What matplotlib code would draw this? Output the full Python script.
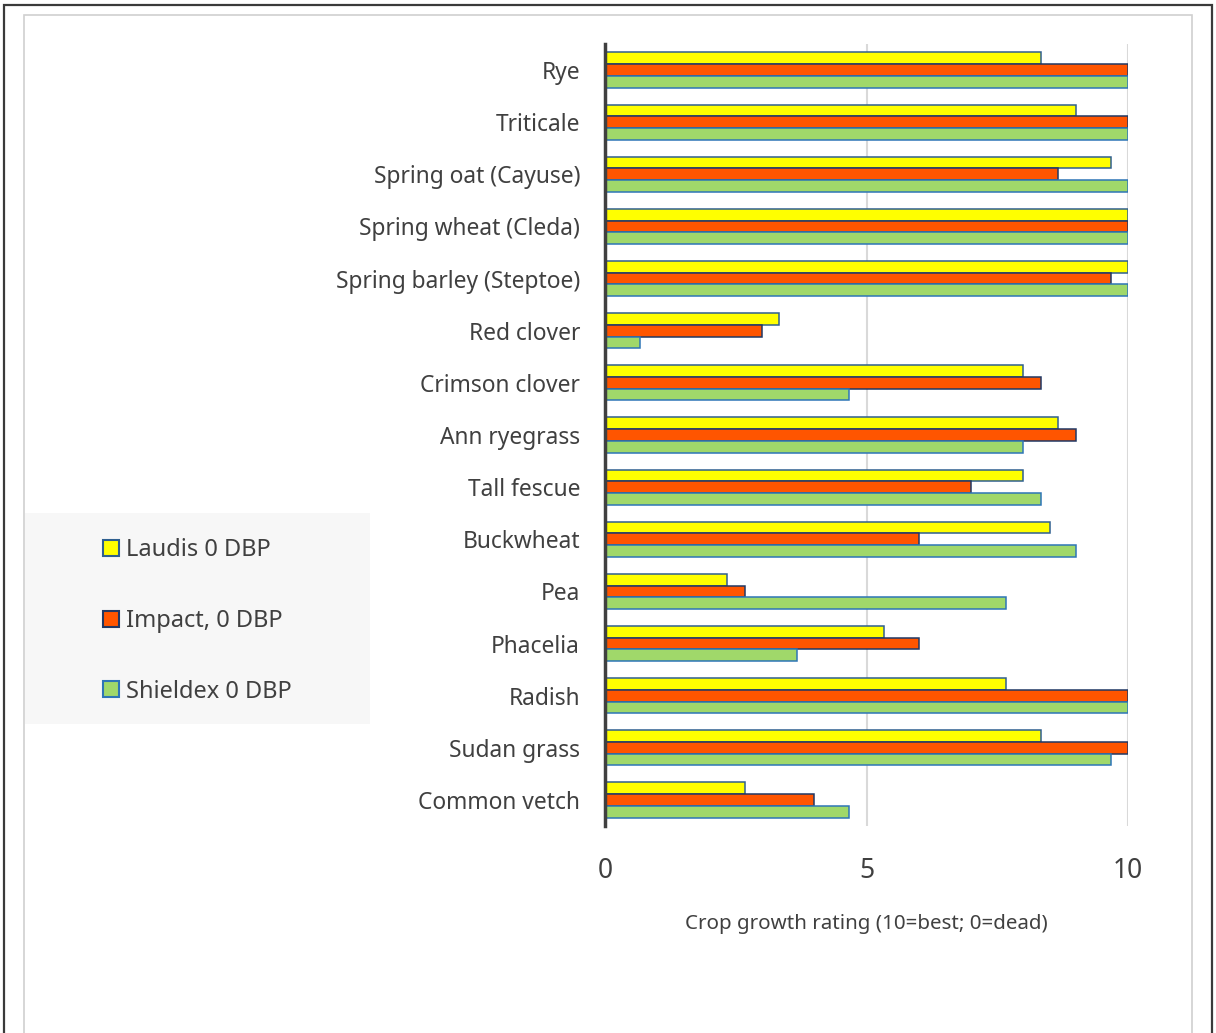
import matplotlib
matplotlib.use("Agg")
import matplotlib.pyplot as plt
from matplotlib.patches import Rectangle, Patch
import numpy as np

plt.rcParams['font.family'] = ['Noto Sans', 'DejaVu Sans']

# data (rating 0-10)
crops = ["Rye", "Triticale", "Spring oat (Cayuse)", "Spring wheat (Cleda)",
         "Spring barley (Steptoe)", "Red clover", "Crimson clover", "Ann ryegrass",
         "Tall fescue", "Buckwheat", "Pea", "Phacelia", "Radish", "Sudan grass",
         "Common vetch"]
laudis = [8.33, 9.0, 9.67, 10, 10, 3.33, 8.0, 8.67, 8.0, 8.5, 2.33, 5.33, 7.67, 8.33, 2.67]
impact = [10, 10, 8.67, 10, 9.67, 3.0, 8.33, 9.0, 7.0, 6.0, 2.67, 6.0, 10, 10, 4.0]
shieldex = [10, 10, 10, 10, 10, 0.67, 4.67, 8.0, 8.33, 9.0, 7.67, 3.67, 10, 9.67, 4.67]
series_names = ["Laudis 0 DBP", "Impact, 0 DBP", "Shieldex 0 DBP"]

fills = ["#FFFF00", "#FF5500", "#A0D86A"]
edges = ["#2F5F8F", "#203864", "#2E75B6"]
txt = "#404040"

fig = plt.figure(figsize=(12.16, 10.33), dpi=100)

# outer frame + inner light frame (bottom runs off the image)
fig.patches.append(Rectangle((4 / 1216, -0.05), 1208 / 1216, 1.05 - 5 / 1033,
                             transform=fig.transFigure, fill=False,
                             edgecolor="#3A3A3A", linewidth=1.6, zorder=0))
fig.patches.append(Rectangle((24 / 1216, -0.05), 1168 / 1216, 1.05 - 15 / 1033,
                             transform=fig.transFigure, fill=False,
                             edgecolor="#D0D0D0", linewidth=1.2, zorder=0))
# legend background
fig.patches.append(Rectangle((25 / 1216, 1 - 724 / 1033), 345 / 1216, 211 / 1033,
                             transform=fig.transFigure, facecolor="#F7F7F7",
                             edgecolor="none", zorder=0))

ax = fig.add_axes([605 / 1216, 1 - 826 / 1033, 523 / 1216, 782 / 1033])

n = len(crops)
y = np.arange(n)
h = 0.225
for i, vals in enumerate([laudis, impact, shieldex]):
    ax.barh(y + (i - 1) * h, vals, height=h, color=fills[i], edgecolor=edges[i],
            linewidth=1.1, zorder=3)

ax.set_xlim(0, 10)
ax.set_ylim(n - 0.5, -0.5)
ax.set_xticks([0, 5, 10])
ax.xaxis.grid(True, color="#D9D9D9", linewidth=1.5, zorder=0)
ax.set_yticks(y)
ax.set_yticklabels(crops, fontsize=16.4, color=txt)
ax.tick_params(axis="y", length=0, pad=18)
ax.tick_params(axis="x", length=0, pad=22, labelsize=19, labelcolor=txt)
for s in ["top", "right", "bottom"]:
    ax.spines[s].set_visible(False)
ax.spines["left"].set_color("#404040")
ax.spines["left"].set_linewidth(2.5)
ax.spines["left"].set_zorder(5)

ax.set_xlabel("Crop growth rating (10=best; 0=dead)", fontsize=14.8, color=txt, labelpad=21)

handles = [Patch(facecolor=fills[i], edgecolor=edges[i], linewidth=1.5) for i in range(3)]
fig.legend(handles, series_names, loc="center left",
           bbox_to_anchor=(91 / 1216, 1 - 621 / 1033), frameon=False,
           fontsize=17, labelcolor=txt, handlelength=0.68, handleheight=0.68,
           handletextpad=0.3, labelspacing=1.97, borderpad=0)

fig.savefig("out.png", dpi=100)
